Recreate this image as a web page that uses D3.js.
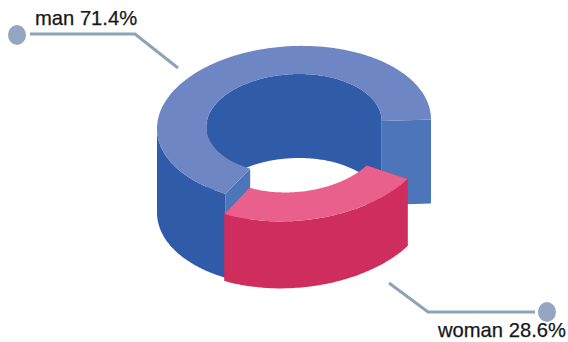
<!DOCTYPE html>
<html>
<head>
<meta charset="utf-8">
<script src="https://cdn.jsdelivr.net/npm/d3@7/dist/d3.min.js"></script>
<style>
html,body{margin:0;padding:0;background:#fff;}
svg{display:block;}
text{font-family:"Liberation Sans",Arial,sans-serif;fill:#17171b;stroke:#17171b;stroke-width:0.25px;}
</style>
</head>
<body>
<svg id="chart" width="568" height="342"></svg>
<script>
// Gender split, in percent
const categories = ["man", "woman"];
const shares = [71.4, 28.6];

const width = 568, height = 342;
const svg = d3.select("#chart").attr("viewBox", [0, 0, width, height]);
const deg = Math.PI / 180;

// Each slice is seen through its own oblique view of the ring.
// sweep: the degrees the slice covers once foreshortened; the woman slice is pulled out of the ring.
const views = [
  { cx: 294, cy: 124, rx: 137, ry: 78, shear: 4.5, depth: 84, sweep: [210, 450],
    top: "#6e86c3", wall: "#2f5ba9", cap: "#4c75ba", inner: "#2f5ba9" },
  { cx: 294, cy: 141, rx: 137, ry: 80, shear: 8, depth: 67, sweep: [484, 570.5],
    top: "#e8608b", wall: "#cf2d5e", cap: "#cf2d5e", inner: "#cf2d5e" }
];
const innerRatio = 0.64;

const pie = d3.pie().sort(null).startAngle(204.5 * deg).endAngle((204.5 + 360) * deg);
const arcs = pie(shares);

// Maps a point on the ring (radius ratio, drawn angle, drop below the top face) to the page
function project(v, ratio, a, drop) {
  return [
    v.cx + ratio * v.rx * Math.sin(a),
    v.cy + ratio * (-v.ry * Math.cos(a) - v.shear * Math.sin(a)) + drop
  ];
}

const line = d3.line();
const sampleStep = 1 * deg;

function angleSamples(a0, a1) {
  const list = d3.range(a0, a1, sampleStep);
  list.push(a1);
  return list;
}

function topFace(v, a0, a1) {
  const s = angleSamples(a0, a1);
  const pts = s.map(a => project(v, 1, a, 0))
    .concat(s.slice().reverse().map(a => project(v, innerRatio, a, 0)));
  return line(pts) + "Z";
}

function wallFace(v, ratio, samples) {
  const up = samples.map(a => project(v, ratio, a, 0));
  const down = samples.slice().reverse().map(a => project(v, ratio, a, v.depth));
  return line(up.concat(down)) + "Z";
}

function capFace(v, a) {
  return line([
    project(v, innerRatio, a, 0),
    project(v, 1, a, 0),
    project(v, 1, a, v.depth),
    project(v, innerRatio, a, v.depth)
  ]) + "Z";
}

const slices = arcs.map((d, i) => {
  const v = views[i];
  const toDrawn = d3.scaleLinear()
    .domain([d.startAngle, d.endAngle])
    .range([v.sweep[0] * deg, v.sweep[1] * deg]);
  return { v, a0: toDrawn(d.startAngle), a1: toDrawn(d.endAngle) };
});

const ring = svg.append("g");

slices.forEach(({ v, a0, a1 }) => {
  const samples = angleSamples(a0, a1);
  // inner wall: only the part facing the viewer (far side of the hole)
  const far = samples.filter(a => Math.cos(a) >= 0);
  if (far.length) ring.append("path").attr("d", wallFace(v, innerRatio, far)).attr("fill", v.inner);
  // end caps where the ring is cut
  ring.append("path").attr("d", capFace(v, a0)).attr("fill", v.cap);
  ring.append("path").attr("d", capFace(v, a1)).attr("fill", v.cap);
  // outer wall: only the near side
  const near = samples.filter(a => Math.cos(a) <= 0);
  ring.append("path").attr("d", wallFace(v, 1, near)).attr("fill", v.wall);
  ring.append("path").attr("d", topFace(v, a0, a1)).attr("fill", v.top);
});

// Leader lines and labels
const labelLayout = [
  { dot: [17, 35], path: [[30, 34], [135, 34], [178, 68]], text: [35, 25] },
  { dot: [547, 312], path: [[389, 283], [428, 312], [535, 312]], text: [438, 337] }
];

const notes = svg.append("g");
labelLayout.forEach((l, i) => {
  notes.append("path").attr("d", line(l.path))
    .attr("fill", "none").attr("stroke", "#8fa3b7").attr("stroke-width", 3);
  notes.append("ellipse").attr("cx", l.dot[0]).attr("cy", l.dot[1])
    .attr("rx", 9).attr("ry", 10).attr("fill", "#94a6c1");
  notes.append("text").attr("x", l.text[0]).attr("y", l.text[1])
    .attr("font-size", 20.2)
    .text(`${categories[i]} ${shares[i]}%`);
});
</script>
</body>
</html>
